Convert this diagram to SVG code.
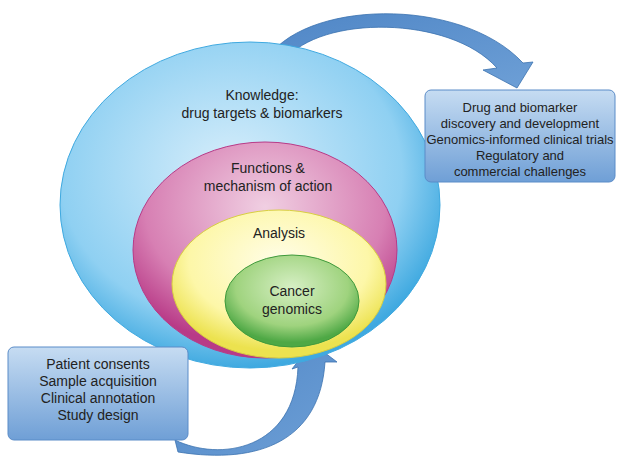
<svg xmlns="http://www.w3.org/2000/svg" width="640" height="461" viewBox="0 0 640 461">
<defs>
<radialGradient id="gb" cx="0.45" cy="0.4" r="0.6"><stop offset="0" stop-color="#d8eefb"/><stop offset="0.75" stop-color="#8fd0f2"/><stop offset="1" stop-color="#3fa9e0"/></radialGradient>
<radialGradient id="gm" cx="0.5" cy="0.3" r="0.65"><stop offset="0" stop-color="#f0cfe2"/><stop offset="0.7" stop-color="#d77fb3"/><stop offset="1" stop-color="#b83a87"/></radialGradient>
<radialGradient id="gy" cx="0.5" cy="0.35" r="0.6"><stop offset="0" stop-color="#fffde8"/><stop offset="0.7" stop-color="#fdf7a8"/><stop offset="1" stop-color="#ece24f"/></radialGradient>
<radialGradient id="gg" cx="0.5" cy="0.35" r="0.6"><stop offset="0" stop-color="#d6efc4"/><stop offset="0.7" stop-color="#9fd37e"/><stop offset="1" stop-color="#4ea845"/></radialGradient>
<linearGradient id="gbox" x1="0" y1="0" x2="0" y2="1"><stop offset="0" stop-color="#c6dcf2"/><stop offset="1" stop-color="#6f9fd6"/></linearGradient>
<linearGradient id="garr" x1="0" y1="0" x2="1" y2="1"><stop offset="0" stop-color="#4f86c6"/><stop offset="1" stop-color="#6d9fd6"/></linearGradient>
</defs>
<style>
text{font-family:"Liberation Sans",Arial,sans-serif;font-size:14px;fill:#222;text-anchor:middle}
.box{fill:url(#gbox);stroke:#5b8cc8;stroke-width:1}
.arr{fill:url(#garr);stroke:#3b72b0;stroke-width:0.8}
</style>
<g id="connectors">
<path class="arr" d="M265,62 C300,0 460,-5 523,63 L533,62 L517,88 L483,70 L497,68 C450,15 320,15 285,60 Z"/>
<path class="arr" d="M175,440 C220,462 295,450 298,367 L292,369 L312,343 L337,362 L325,362 C320,440 260,465 178,452 Z"/>
</g>
<g id="knowledge"><ellipse cx="250" cy="205" rx="190" ry="163" fill="url(#gb)" stroke="#3fa9e0"/>
<text x="262" y="100">Knowledge:</text><text x="262" y="118">drug targets &amp; biomarkers</text></g>
<g id="functions"><ellipse cx="265" cy="250" rx="132" ry="108" fill="url(#gm)" stroke="#b83a87"/>
<text x="268" y="173">Functions &amp;</text><text x="268" y="191">mechanism of action</text></g>
<g id="analysis"><ellipse cx="279" cy="284" rx="107" ry="74" fill="url(#gy)" stroke="#d8cf40"/>
<text x="279" y="238">Analysis</text></g>
<g id="cancer"><ellipse cx="292" cy="301" rx="67" ry="46" fill="url(#gg)" stroke="#3f9a3c"/>
<text x="292" y="296">Cancer</text><text x="292" y="314">genomics</text></g>
<g id="right-box"><rect class="box" x="425" y="90" width="190" height="92" rx="6"/>
<text x="520" y="112" style="font-size:13px">Drug and biomarker</text><text x="520" y="128" style="font-size:13px">discovery and development</text><text x="520" y="144" style="font-size:13px">Genomics-informed clinical trials</text><text x="520" y="160" style="font-size:13px">Regulatory and</text><text x="520" y="176" style="font-size:13px">commercial challenges</text></g>
<g id="left-box"><rect class="box" x="8" y="347" width="180" height="93" rx="6"/>
<text x="98" y="369">Patient consents</text><text x="98" y="386">Sample acquisition</text><text x="98" y="403">Clinical annotation</text><text x="98" y="420">Study design</text></g>
</svg>
